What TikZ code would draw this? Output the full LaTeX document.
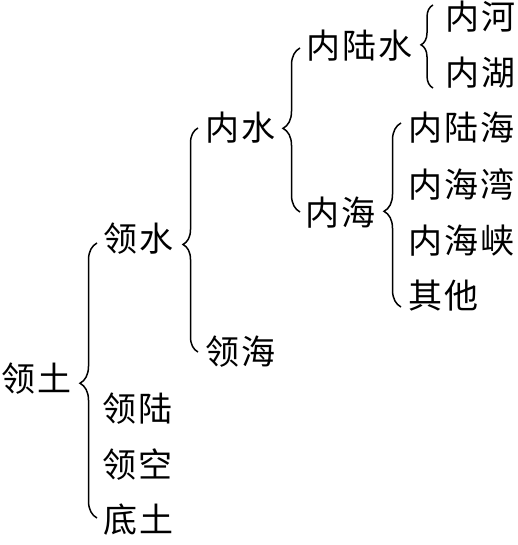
\documentclass[tikz,border=0pt]{standalone}
\usepackage{fontspec}
\newfontfamily\cjk[LetterSpace=7]{Noto Sans CJK SC}
\usetikzlibrary{decorations.pathreplacing}
\begin{document}
\begin{tikzpicture}[x=1pt,y=1pt,
  lbl/.style={anchor=west,inner sep=0pt,font=\cjk\fontsize{34}{34}\selectfont},
  br/.style={line width=1.5pt,decorate,decoration={brace,amplitude=#1,raise=0pt}},
  br/.default=17pt]
\useasboundingbox (0,0) rectangle (518,-545);
% level 0
\node[lbl] (lingtu) at (1,-379) {领土};
% level 1
\node[lbl] (lingshui) at (103,-239) {领水};
\node[lbl] (linglu) at (102,-409) {领陆};
\node[lbl] (lingkong) at (102,-465) {领空};
\node[lbl] (ditu) at (103,-520) {底土};
% level 2
\node[lbl] (neishui) at (205,-128) {内水};
\node[lbl] (linghai) at (205,-352) {领海};
% level 3
\node[lbl] (neilushui) at (306,-46) {内陆水};
\node[lbl] (neihai) at (305,-213) {内海};
% level 4
\node[lbl] (neihe) at (445,-17) {内河};
\node[lbl] (neihu) at (445,-73) {内湖};
\node[lbl] (neiluhai) at (408,-128) {内陆海};
\node[lbl] (neihaiwan) at (408,-184) {内海湾};
\node[lbl] (neihaixia) at (408,-241) {内海峡};
\node[lbl] (qita) at (408,-296) {其他};
% brace end points
\coordinate (b1s) at (97,-518);  \coordinate (b1e) at (97,-243);
\coordinate (b2s) at (198,-352); \coordinate (b2e) at (198,-128);
\coordinate (b3s) at (300,-212); \coordinate (b3e) at (300,-48);
\coordinate (b4s) at (433,-88);  \coordinate (b4e) at (433,-5);
\coordinate (b5s) at (401,-307); \coordinate (b5e) at (401,-123);
% braces
\draw[br=17pt,decoration={aspect=0.49}] (b1s) -- (b1e);
\draw[br=15pt,decoration={aspect=0.48}] (b2s) -- (b2e);
\draw[br=17pt,decoration={aspect=0.51}] (b3s) -- (b3e);
\draw[br=12pt,decoration={aspect=0.52}] (b4s) -- (b4e);
\draw[br=17pt,decoration={aspect=0.52}] (b5s) -- (b5e);
\end{tikzpicture}
\end{document}
